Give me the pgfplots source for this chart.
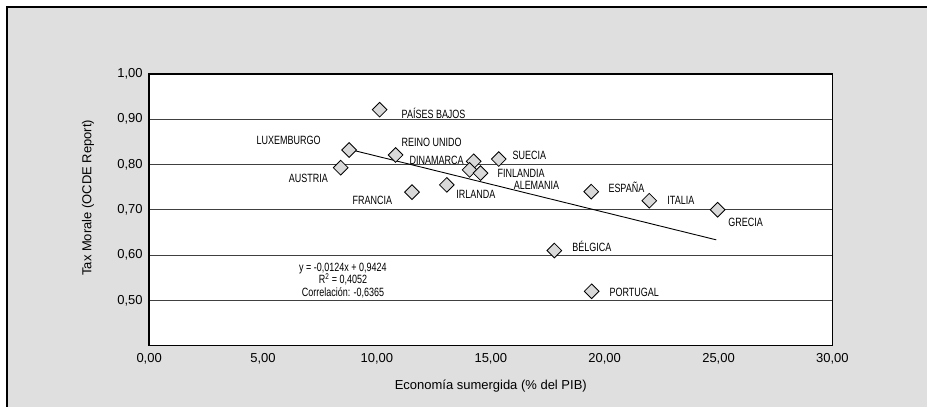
\documentclass[border=0pt]{standalone}
\usepackage{pgfplots}
\pgfplotsset{compat=1.18}
\usepackage{fontspec}
\setmainfont{Liberation Sans}
\newfontfamily\narrow[FakeStretch=0.75]{Liberation Sans}
\definecolor{bgc}{HTML}{DFDFDF}
\definecolor{mk}{HTML}{D9D9D9}
\begin{document}
\begin{tikzpicture}[x=1bp,y=1bp]
\fill[white] (0,0) rectangle (928,407);
\fill[bgc] (7,0) rectangle (928,400.3);
\draw[black, line width=2bp] (7,0) -- (7,400.3) -- (928,400.3);
\begin{axis}[
  at={(149.3bp,61bp)}, anchor=south west,
  scale only axis, width=684bp, height=272bp,
  xmin=0, xmax=30, ymin=0.4, ymax=1.0,
  xtick={0,5,...,30}, ytick={0.5,0.6,0.7,0.8,0.9,1.0},
  major tick length=0pt,
  axis background/.style={fill=white},
  axis line style={black, line width=1.4bp},
  ymajorgrids, grid style={black!75, line width=1bp},
  tick label style={font=\fontsize{13bp}{15bp}\selectfont},
  /pgf/number format/.cd, fixed, fixed zerofill, precision=2, use comma, assume math mode=true,
  /pgfplots/.cd,
  xticklabel style={yshift=-4bp},
  yticklabel style={xshift=-3bp},
  clip=false,
]
\addplot[black, line width=0.9bp] coordinates {(9.0,0.8308) (24.9,0.6336)};
\addplot[only marks, mark=square*, mark size=5.2bp,
  mark options={rotate=45, fill=mk, draw=black, line width=0.8bp}] coordinates {
  (10.12,0.921) (8.78,0.832) (8.41,0.793) (10.82,0.821) (11.54,0.739)
  (13.07,0.755) (14.25,0.807) (14.07,0.788) (14.55,0.781) (15.35,0.812)
  (19.41,0.740) (21.96,0.720) (24.96,0.700) (17.79,0.610) (19.43,0.520)};
\begin{scope}[every node/.style={font=\narrow\fontsize{12bp}{13bp}\selectfont, inner sep=0pt, anchor=west}]
\node at (axis cs:11.08,0.913) {PAÍSES BAJOS};
\node at (axis cs:4.71,0.854) {LUXEMBURGO};
\node at (axis cs:6.13,0.770) {AUSTRIA};
\node at (axis cs:8.93,0.720) {FRANCIA};
\node at (axis cs:11.08,0.848) {REINO UNIDO};
\node at (axis cs:11.43,0.809) {DINAMARCA};
\node at (axis cs:15.95,0.820) {SUECIA};
\node at (axis cs:15.29,0.781) {FINLANDIA};
\node at (axis cs:16.0,0.753) {ALEMANIA};
\node at (axis cs:13.48,0.735) {IRLANDA};
\node at (axis cs:20.16,0.750) {ESPAÑA};
\node at (axis cs:22.75,0.720) {ITALIA};
\node at (axis cs:25.42,0.672) {GRECIA};
\node at (axis cs:18.57,0.619) {BÉLGICA};
\node at (axis cs:20.21,0.518) {PORTUGAL};
\node[anchor=center] at (axis cs:8.51,0.571) {y = -0,0124x + 0,9424};
\node[anchor=center] at (axis cs:8.51,0.547) {R\textsuperscript{2} = 0,4052};
\node[anchor=center] at (axis cs:8.51,0.516) {Correlación: -0,6365};
\end{scope}
\end{axis}
\node[font=\fontsize{13bp}{15bp}\selectfont] at (491.3,21) {Economía sumergida (\% del PIB)};
\node[font=\fontsize{13bp}{15bp}\selectfont, rotate=90] at (88,209) {Tax Morale (OCDE Report)};
\end{tikzpicture}
\end{document}
